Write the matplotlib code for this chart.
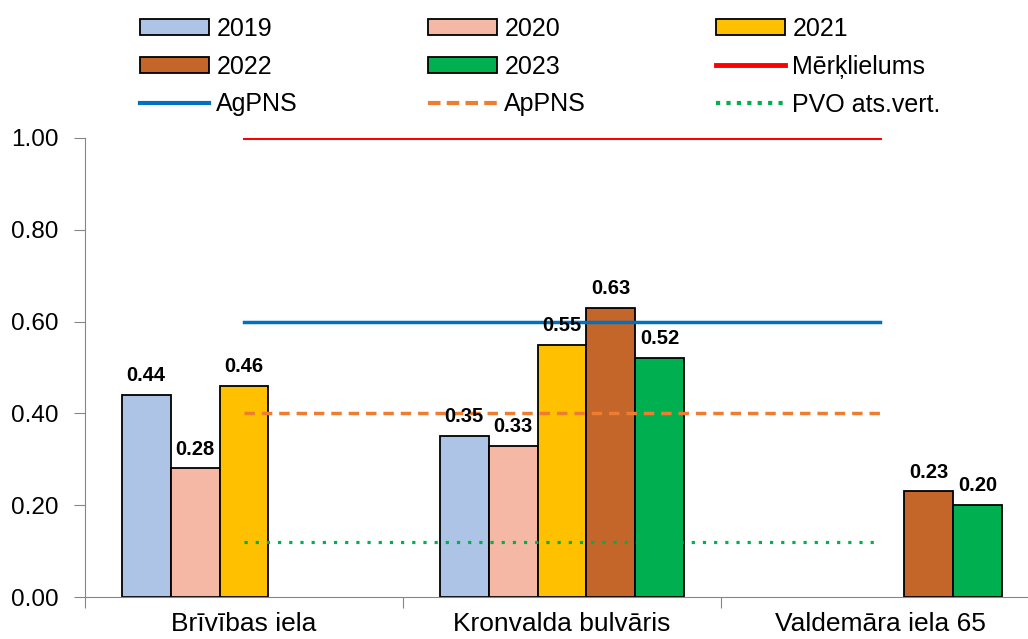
import numpy as np
import matplotlib
matplotlib.use('Agg')
import matplotlib.pyplot as plt
from matplotlib.patches import Patch
from matplotlib.lines import Line2D

plt.rcParams['font.family'] = ['Liberation Sans', 'DejaVu Sans']

# data
stations = ['Brīvības iela', 'Kronvalda bulvāris', 'Valdemāra iela 65']
years = ['2019', '2020', '2021', '2022', '2023']
values = {
    '2019': [0.44, 0.35, None],
    '2020': [0.28, 0.33, None],
    '2021': [0.46, 0.55, None],
    '2022': [None, 0.63, 0.23],
    '2023': [None, 0.52, 0.20],
}
colors = ['#adc4e6', '#f4b8a4', '#ffc000', '#c4652a', '#00b050']
target = 1.00      # Mērķlielums
agpns = 0.60
appns = 0.40
pvo = 0.12

fig = plt.figure(figsize=(10.28, 6.39), dpi=100)
ax = fig.add_axes([85 / 1028, 1 - 597 / 639, (1039 - 85) / 1028, (597 - 138) / 639])

x = np.arange(len(stations))
w = 0.154
for i, yr in enumerate(years):
    for j, v in enumerate(values[yr]):
        if v is None:
            continue
        xpos = x[j] + (i - 2) * w
        ax.bar(xpos, v, width=w, color=colors[i], edgecolor='black', linewidth=1.3, zorder=2)
        ax.annotate(f'{v:.2f}', (xpos, v), xytext=(0, 10), textcoords='offset points',
                    ha='center', va='baseline', fontsize=14.5, fontweight='bold', zorder=5)

xs = [x[0], x[-1]]
ax.plot(xs, [target] * 2, color='#ff0000', lw=2.2, zorder=3)
ax.plot(xs, [agpns] * 2, color='#0070c0', lw=2.5, zorder=3)
ax.plot(xs, [appns] * 2, color='#ed7d31', lw=2.5, ls=(0, (3, 2)), zorder=3)
ax.plot(xs, [pvo] * 2, color='#00b050', lw=2.3, ls=(0, (1, 2.5)), zorder=3)

ax.set_xlim(-0.5, 2.5)
ax.set_ylim(0, 1.0)
ax.set_yticks(np.arange(0, 1.01, 0.2))
ax.set_yticklabels([f'{t:.2f}' for t in np.arange(0, 1.01, 0.2)], fontsize=17.5)
ax.set_xticks([-0.5, 0.5, 1.5, 2.5])
ax.set_xticklabels([])
ax.set_xticks(x, minor=True)
ax.set_xticklabels(stations, minor=True, fontsize=19)
ax.tick_params(axis='x', which='minor', length=0, pad=11)
ax.tick_params(axis='x', which='major', length=8, color='#868686', direction='out')
ax.tick_params(axis='y', length=8, color='#868686', pad=11)
for s in ['top', 'right']:
    ax.spines[s].set_visible(False)
for s in ['left', 'bottom']:
    ax.spines[s].set_color('#868686')
ax.patch.set_alpha(0)

handles = [
    Patch(facecolor=colors[0], edgecolor='black', lw=1.3, label='2019'),
    Patch(facecolor=colors[1], edgecolor='black', lw=1.3, label='2020'),
    Patch(facecolor=colors[2], edgecolor='black', lw=1.3, label='2021'),
    Patch(facecolor=colors[3], edgecolor='black', lw=1.3, label='2022'),
    Patch(facecolor=colors[4], edgecolor='black', lw=1.3, label='2023'),
    Line2D([], [], color='#ff0000', lw=3.5, label='Mērķlielums'),
    Line2D([], [], color='#0070c0', lw=3, label='AgPNS'),
    Line2D([], [], color='#ed7d31', lw=3, ls=(0, (3, 1.5)), label='ApPNS'),
    Line2D([], [], color='#00b050', lw=3, ls=(0, (1, 1.5)), label='PVO ats.vert.'),
]
# matplotlib fills legend column-wise; reorder so rows read left to right
order = [0, 3, 6, 1, 4, 7, 2, 5, 8]
fig.legend([handles[k] for k in order], [handles[k].get_label() for k in order],
           ncol=3, loc='upper left', bbox_to_anchor=(140 / 1028, 1 - 17 / 639),
           frameon=False, fontsize=18, handlelength=2.75, handleheight=0.58,
           handletextpad=0.3, columnspacing=5.2, labelspacing=0.55, borderpad=0,
           borderaxespad=0)

fig.savefig('out.png', dpi=100)
